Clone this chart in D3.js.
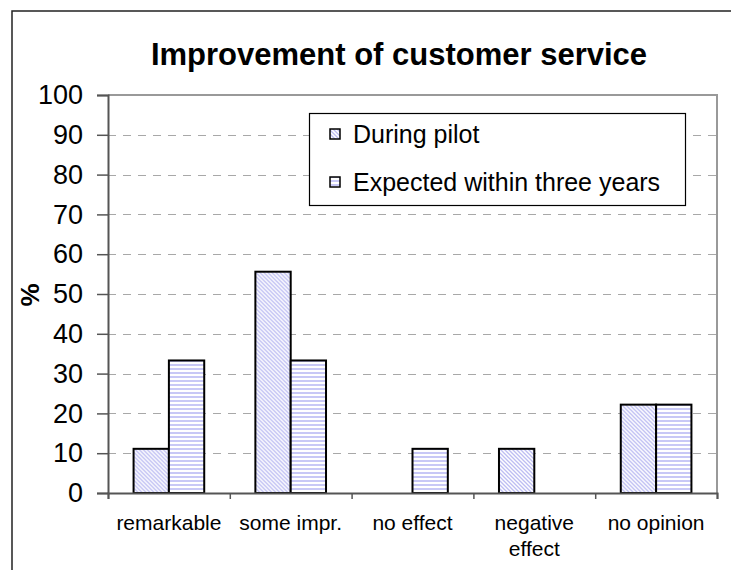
<!DOCTYPE html>
<html>
<head>
<meta charset="utf-8">
<script src="https://cdn.jsdelivr.net/npm/d3@7"></script>
<style>
  html, body { margin: 0; padding: 0; background: #fff; }
  svg { display: block; }
  text { font-family: "Liberation Sans", Arial, sans-serif; fill: #000; }
</style>
</head>
<body>
<svg id="chart" width="731" height="570"></svg>
<script>
const categories = [["remarkable"], ["some impr."], ["no effect"], ["negative", "effect"], ["no opinion"]];
const seriesNames = ["During pilot", "Expected within three years"];
const duringPilot = [11.1, 55.6, 0, 11.1, 22.2];
const expected3y = [33.3, 33.3, 11.1, 0, 22.2];
const yTicks = [0, 10, 20, 30, 40, 50, 60, 70, 80, 90, 100];
const titleText = "Improvement of customer service";
const yLabel = "%";

const svg = d3.select("#chart");
const m = { left: 108, right: 717, top: 95, bottom: 493 };

// patterns
const defs = svg.append("defs");
const pDiag = defs.append("pattern").attr("id", "pDiag")
  .attr("patternUnits", "userSpaceOnUse").attr("width", 4).attr("height", 4);
pDiag.append("rect").attr("width", 4).attr("height", 4).attr("fill", "#fff");
pDiag.append("path").attr("d", "M0,0 L4,4 M-1,3 L1,5 M3,-1 L5,1")
  .attr("stroke", "#bcbcf2").attr("stroke-width", 1.3);
const pHor = defs.append("pattern").attr("id", "pHor")
  .attr("patternUnits", "userSpaceOnUse").attr("width", 4).attr("height", 4);
pHor.append("rect").attr("width", 4).attr("height", 4).attr("fill", "#fff");
pHor.append("rect").attr("y", 0).attr("width", 4).attr("height", 2).attr("fill", "#c8c8f6");
const fills = ["url(#pDiag)", "url(#pHor)"];

// outer frame
svg.append("rect").attr("x", 12).attr("y", 11).attr("width", 760).attr("height", 600)
  .attr("fill", "none").attr("stroke", "#222").attr("stroke-width", 1.5);

// title
svg.append("text").attr("x", 399).attr("y", 65).attr("text-anchor", "middle")
  .style("font-size", "31px").style("font-weight", "bold").text(titleText);

const y = d3.scaleLinear().domain([0, 100]).range([m.bottom, m.top]);
const x0 = d3.scaleBand().domain(d3.range(categories.length)).range([m.left, m.right]);
const groupW = x0.bandwidth() * 0.58;
const x1 = d3.scaleBand().domain([0, 1]).range([0, groupW]);

// gridlines
svg.append("g").selectAll("line").data(yTicks.filter(t => t > 0 && t < 100)).join("line")
  .attr("x1", m.left).attr("x2", m.right)
  .attr("y1", d => Math.round(y(d)) + 0.5).attr("y2", d => Math.round(y(d)) + 0.5)
  .attr("stroke", "#a8a8a8").attr("stroke-width", 1.2).attr("stroke-dasharray", "8,7");

// plot border top/right
svg.append("path").attr("d", `M${m.left},${m.top} L${m.right},${m.top} L${m.right},${m.bottom}`)
  .attr("fill", "none").attr("stroke", "#999").attr("stroke-width", 2);

// bars
const data = categories.map((c, i) => [duringPilot[i], expected3y[i]]);
const groups = svg.append("g").selectAll("g").data(data).join("g")
  .attr("transform", (d, i) => `translate(${x0(i) + (x0.bandwidth() - groupW) / 2},0)`);
groups.selectAll("rect").data(d => d.map((v, s) => ({ v, s }))).join("rect")
  .filter(d => d.v > 0)
  .attr("x", d => x1(d.s)).attr("width", x1.bandwidth())
  .attr("y", d => y(d.v)).attr("height", d => y(0) - y(d.v))
  .attr("fill", d => fills[d.s]).attr("stroke", "#000").attr("stroke-width", 2);

// y axis
const yAxis = d3.axisLeft(y).tickValues(yTicks).tickSize(11).tickPadding(14);
const gy = svg.append("g").attr("transform", `translate(${m.left},0)`).call(yAxis);
gy.select(".domain").attr("stroke", "#555").attr("stroke-width", 2);
gy.selectAll(".tick line").attr("stroke", "#555").attr("stroke-width", 1.5);
gy.selectAll(".tick text").style("font-size", "27px").style("font-family", "'Liberation Sans', Arial, sans-serif").attr("fill", "#000");

// x axis
const xTickScale = d3.scaleLinear().domain([0, categories.length]).range([m.left, m.right]);
const gx = svg.append("g").attr("transform", `translate(0,${m.bottom})`)
  .call(d3.axisBottom(xTickScale).tickValues(d3.range(categories.length + 1)).tickSize(6).tickFormat(""));
gx.select(".domain").attr("stroke", "#555").attr("stroke-width", 2);
gx.selectAll(".tick line").attr("stroke", "#555").attr("stroke-width", 1.5);

// x labels
const xl = svg.append("g").selectAll("text").data(categories).join("text")
  .attr("text-anchor", "middle").style("font-size", "21px")
  .attr("x", (d, i) => x0(i) + x0.bandwidth() / 2).attr("y", 530);
xl.selectAll("tspan").data(d => d).join("tspan")
  .attr("x", function () { return d3.select(this.parentNode).attr("x"); })
  .attr("dy", (d, i) => i === 0 ? 0 : 26).text(d => d);

// y label
svg.append("text").attr("transform", "translate(39,295) rotate(-90)")
  .attr("text-anchor", "middle").style("font-size", "26px").style("font-weight", "bold").text(yLabel);

// legend
const lg = svg.append("g");
lg.append("rect").attr("x", 309.5).attr("y", 113.5).attr("width", 376).attr("height", 92)
  .attr("fill", "#fff").attr("stroke", "#000").attr("stroke-width", 1.2);
const items = lg.selectAll("g").data(seriesNames).join("g")
  .attr("transform", (d, i) => `translate(0,${i * 48})`);
items.append("rect").attr("x", 330).attr("y", 129).attr("width", 10).attr("height", 10)
  .attr("fill", (d, i) => fills[i]).attr("stroke", "#000").attr("stroke-width", 1.5);
items.append("text").attr("x", 353).attr("y", 143).style("font-size", "25px").text(d => d);
</script>
</body>
</html>
